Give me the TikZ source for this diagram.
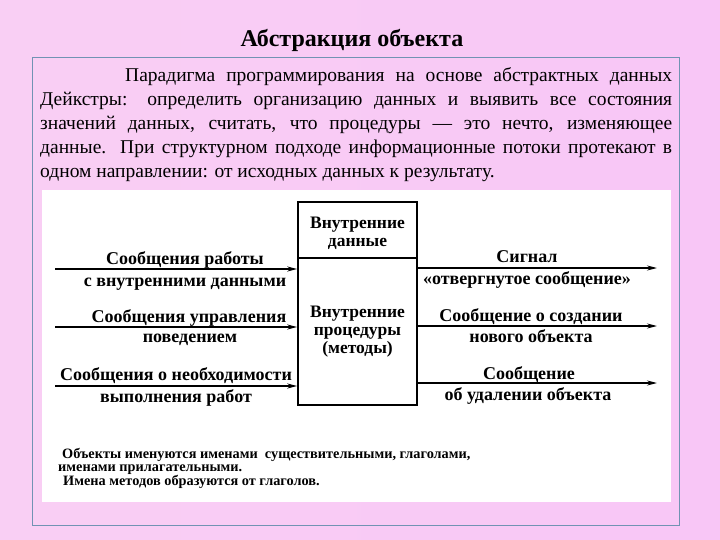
\documentclass[tikz,border=0pt]{standalone}
\usepackage{fontspec}
\setmainfont{Liberation Serif}
\usetikzlibrary{arrows.meta}
\definecolor{bgL}{HTML}{F9CFF4}
\definecolor{bgM}{HTML}{FCE3F9}
\definecolor{bgR}{HTML}{F8C6F6}
\definecolor{frame}{HTML}{7193B3}
\tikzset{
  arr/.style={line width=1.4pt,-{Stealth[length=10pt,width=5pt]}},
  lbl/.style={font=\fontsize{18}{19}\selectfont\bfseries, inner sep=0pt, anchor=base},
  boxtxt/.style={font=\fontsize{17.5}{18}\selectfont\bfseries, align=center, inner sep=0pt},
  cbox/.style={draw, line width=1.6pt, inner sep=0pt}
}
\begin{document}
\begin{tikzpicture}[x=1pt,y=-1pt]
\useasboundingbox (0,0) rectangle (720,540);
\shade[left color=bgL, middle color=bgM, right color=bgR, shading angle=90] (0,0) rectangle (720,540);
\node[font=\fontsize{24}{28}\selectfont\bfseries, anchor=center] (title) at (352,40) {Абстракция объекта};
\draw[frame, line width=0.9pt] (32,57) rectangle (679,525);
\node[anchor=north west, inner sep=0pt, text width=632pt, align=justify,
      font=\fontsize{19.5}{24}\selectfont] (para) at (40,67)
  {\hspace*{85pt}Парадигма программирования на основе абстрактных данных\linebreak
   Дейкстры: определить организацию данных и выявить все состояния\linebreak
   значений данных, считать, что процедуры — это нечто, изменяющее\linebreak
   данные. При структурном подходе информационные потоки протекают в\linebreak
   одном направлении: от исходных данных к результату.};
\fill[white] (42,190) rectangle (671,502);
% central box
\node[cbox, minimum width=119pt, minimum height=56pt] (data) at (357.5,230) {};
\node[cbox, minimum width=119pt, minimum height=147pt] (proc) at (357.5,331.5) {};
\node[boxtxt] (dtxt) at (357.5,233) {Внутренние\\данные};
\node[boxtxt] (ptxt) at (357.5,331.5) {Внутренние\\процедуры\\(методы)};
% left arrows
\coordinate (l1) at (55,269);
\coordinate (l2) at (55,327);
\coordinate (l3) at (55,386);
\draw[arr] (l1) -- (l1 -| proc.west);
\draw[arr] (l2) -- (l2 -| proc.west);
\draw[arr] (l3) -- (l3 -| proc.west);
\node[lbl] (a1) at (185,264) {Сообщения работы};
\node[lbl] (a2) at (185,286) {с внутренними данными};
\node[lbl] (b1) at (189,322) {Сообщения управления};
\node[lbl] (b2) at (190,342) {поведением};
\node[lbl] (c1) at (176,380) {Сообщения о необходимости};
\node[lbl] (c2) at (176,402) {выполнения работ};
% right arrows
\coordinate (r1) at (657,268);
\coordinate (r2) at (657,326);
\coordinate (r3) at (657,383);
\draw[arr] (r1 -| proc.east) -- (r1);
\draw[arr] (r2 -| proc.east) -- (r2);
\draw[arr] (r3 -| proc.east) -- (r3);
\node[lbl] (d1) at (527,262) {Сигнал};
\node[lbl] (d2) at (527,284) {«отвергнутое сообщение»};
\node[lbl] (e1) at (531,321) {Сообщение о создании};
\node[lbl] (e2) at (531,342) {нового объекта};
\node[lbl] (f1) at (529,379) {Сообщение};
\node[lbl] (f2) at (528,400) {об удалении объекта};
% bottom note
\node[anchor=north west, inner sep=0pt, align=left,
      font=\fontsize{14.3}{13.5}\selectfont\bfseries] (note) at (58,448)
  {\hspace*{4pt}Объекты именуются именами\ \ существительными, глаголами,\\
   именами прилагательными.\\
   \hspace*{5pt}Имена методов образуются от глаголов.};
\end{tikzpicture}
\end{document}
